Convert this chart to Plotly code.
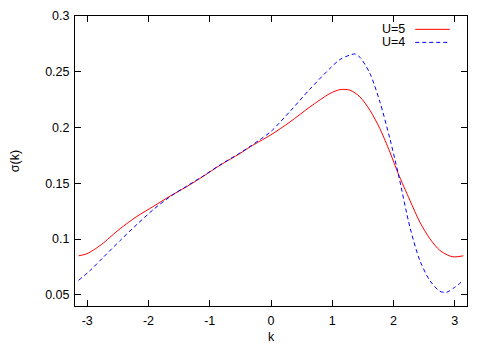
import plotly.graph_objects as go

# ---- data ----
k_u5 = [-3.1416, -3.007, -2.87, -2.736, -2.6, -2.463, -2.19, -1.92, -1.648, -1.376, -1.1, -0.832,
        -0.506, -0.343, -0.18, 0.0, 0.31, 0.636, 0.963, 1.126, 1.289, 1.452, 1.615,
        1.778, 1.941, 2.077, 2.268, 2.43, 2.594, 2.757, 2.92, 3.0, 3.1416]
sigma_u5 = [0.0850, 0.0868, 0.0912, 0.0965, 0.1030, 0.1093, 0.1203, 0.1293, 0.1385, 0.1470, 0.1565, 0.1662,
            0.1768, 0.1826, 0.1878, 0.1935, 0.2050, 0.2185, 0.2305, 0.2340, 0.2335, 0.2275, 0.2155,
            0.1990, 0.1780, 0.1587, 0.1347, 0.1152, 0.1003, 0.0898, 0.0848, 0.0840, 0.0850]

k_u4 = [-3.1416, -2.95, -2.736, -2.463, -2.19, -1.92, -1.648, -1.376, -1.1, -0.832,
        -0.506, -0.343, -0.18, 0.0, 0.31, 0.636, 0.963, 1.126, 1.289, 1.37, 1.452, 1.615,
        1.778, 1.941, 2.077, 2.268, 2.43, 2.594, 2.757, 2.866, 3.0, 3.1416]
sigma_u4 = [0.063, 0.072, 0.0838, 0.0987, 0.1131, 0.1265, 0.1380, 0.1475, 0.1568, 0.1665,
            0.1772, 0.1830, 0.1892, 0.1965, 0.2145, 0.2345, 0.2530, 0.2610, 0.2650, 0.2659, 0.2630, 0.2485,
            0.2230, 0.1900, 0.1587, 0.1107, 0.0808, 0.0628, 0.0532, 0.0523, 0.0568, 0.0630]

series_names = ["U=5", "U=4"]
x_ticks = [-3, -2, -1, 0, 1, 2, 3]
y_ticks = [0.05, 0.1, 0.15, 0.2, 0.25, 0.3]

FONT = "Liberation Sans, Arial, Helvetica, sans-serif"

fig = go.Figure()
fig.add_trace(go.Scatter(x=k_u5, y=sigma_u5, mode="lines", name=series_names[0],
                         line=dict(color="#ff0000", width=1, shape="spline", smoothing=0.8)))
fig.add_trace(go.Scatter(x=k_u4, y=sigma_u4, mode="lines", name=series_names[1],
                         line=dict(color="#0000ff", width=1, dash="4px,3px", shape="spline", smoothing=0.8)))

axis_common = dict(showline=True, linecolor="black", linewidth=1, mirror="allticks",
                   ticks="inside", ticklen=6, tickcolor="black", tickwidth=1,
                   showgrid=False, zeroline=False,
                   tickfont=dict(family=FONT, size=12.5, color="black"))

fig.update_xaxes(range=[-3.2, 3.2], tickvals=x_ticks, ticktext=[str(v) for v in x_ticks],
                 title=dict(text="k", font=dict(family=FONT, size=12.5, color="black"), standoff=5),
                 ticklabelstandoff=3, **axis_common)
fig.update_yaxes(range=[0.04, 0.3], tickvals=y_ticks, ticktext=["0.05", "0.1", "0.15", "0.2", "0.25", "0.3"],
                 title=dict(text="σ(k)", font=dict(family=FONT, size=12.5, color="black"), standoff=22),
                 ticklabelstandoff=2, **axis_common)

# gnuplot-style key: text right-aligned, sample line on the right
key_y = [0.954, 0.909]
key_colors = ["#ff0000", "#0000ff"]
key_dash = ["solid", "4px,3px"]
for name, yy, col, dsh in zip(series_names, key_y, key_colors, key_dash):
    fig.add_annotation(xref="paper", yref="paper", x=0.846, y=yy, text=name, showarrow=False,
                       xanchor="right", yanchor="middle",
                       font=dict(family=FONT, size=12.5, color="black"))
    fig.add_shape(type="line", xref="paper", yref="paper", x0=0.868, x1=0.956, y0=yy, y1=yy,
                  line=dict(color=col, width=1, dash=dsh))

# page body has an 8px default margin, so the figure is shrunk and margins reduced to compensate
fig.update_layout(width=483, height=342, showlegend=False,
                  margin=dict(l=67, r=24.3, t=8, b=43.7, autoexpand=False),
                  paper_bgcolor="white", plot_bgcolor="white",
                  font=dict(family=FONT, size=12.5, color="black"))

fig.write_html("out.html")
